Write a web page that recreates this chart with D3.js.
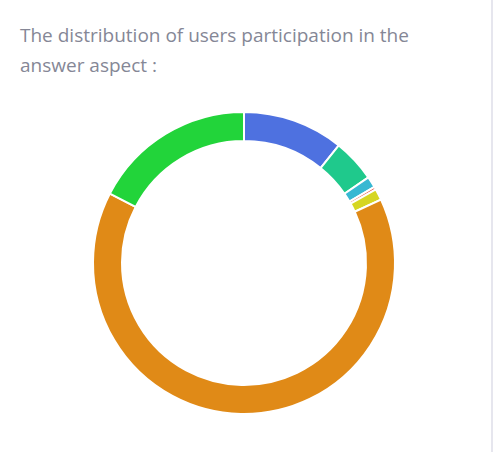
<!DOCTYPE html>
<html lang="en">
<head>
  <meta charset="utf-8">
  <title>Answer participation</title>
  <style>
    body { margin: 0; background: #fff; }
    .card {
      position: absolute; left: 0; top: 0; width: 491px; height: 452px;
      border-right: 2px solid #e6e6ee; background: #fff;
    }
    .card h5 {
      margin: 0; position: absolute; left: 20px; top: 20px; width: 430px;
      font-family: "Open Sans", sans-serif; font-weight: 400; font-size: 19px;
      line-height: 30px; color: #858796;
    }
    #chart { position: absolute; left: 0; top: 0; }
  </style>
</head>
<body>
  <div class="card">
    <h5>The distribution of users participation in the answer aspect :</h5>
    <div id="chart"></div>
  </div>

  <script src="https://d3js.org/d3.v7.min.js"></script>
  <script>
    // slices, clockwise from 12 o'clock
    const labels = ['A', 'B', 'C', 'D', 'E', 'F', 'G'];
    const values = [10.8, 4.6, 1.2, 0.3, 1.2, 64.5, 17.4];
    const colors = ['#4e71e0', '#1fc98c', '#38b8d2', '#e74a3b', '#d6d622', '#e08a17', '#22d43a'];

    const width = 491, height = 452;
    const cx = 244, cy = 263;
    const outer = 151, inner = 122;

    const svg = d3.select('#chart').append('svg')
      .attr('width', width)
      .attr('height', height);

    const pie = d3.pie().sort(null).value(d => d)(values);
    const arc = d3.arc().innerRadius(inner).outerRadius(outer);

    svg.append('g')
      .attr('transform', `translate(${cx},${cy})`)
      .selectAll('path')
      .data(pie)
      .join('path')
      .attr('d', arc)
      .attr('fill', (d, i) => colors[i])
      .attr('stroke', '#fff')
      .attr('stroke-width', 2);
  </script>
</body>
</html>
